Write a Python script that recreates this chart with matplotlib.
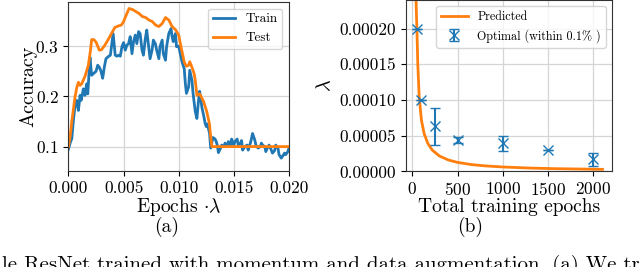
import numpy as np
import matplotlib
matplotlib.use("Agg")
import matplotlib.pyplot as plt
from matplotlib.ticker import FormatStrFormatter

plt.rcParams['font.family'] = 'serif'
plt.rcParams['font.serif'] = ['cmr10']
plt.rcParams['mathtext.fontset'] = 'cm'
plt.rcParams['axes.formatter.use_mathtext'] = True

# (a) accuracy vs epochs * lambda
train_x = [0.0, 0.00015, 0.0003, 0.00045, 0.0006, 0.00075, 0.0009, 0.00105, 0.00115, 0.00135,
           0.0015, 0.00165, 0.00175, 0.00195, 0.0021, 0.0023, 0.0025, 0.00265, 0.0028, 0.00295,
           0.0031, 0.00325, 0.0034, 0.0036, 0.0038, 0.00405, 0.00424, 0.0044, 0.00455, 0.0047,
           0.00485, 0.005, 0.00515, 0.0053, 0.00545, 0.0056, 0.00576, 0.0059, 0.00606, 0.0062,
           0.00636, 0.0065, 0.00667, 0.0068, 0.00697, 0.0071, 0.00727, 0.0074, 0.00758, 0.0077,
           0.00788, 0.008, 0.0082, 0.0083, 0.0085, 0.0086, 0.0088, 0.0089, 0.0091, 0.0093,
           0.0094, 0.0095, 0.0097, 0.0098, 0.01, 0.01014, 0.0103, 0.0105, 0.0106, 0.0107,
           0.0109, 0.011, 0.0112, 0.0113, 0.0115, 0.01165, 0.0118, 0.0119, 0.012, 0.0121,
           0.01225, 0.0124, 0.0125, 0.0126, 0.0128, 0.0129, 0.0131, 0.0133, 0.0134, 0.0135,
           0.0136, 0.0138, 0.0139, 0.0141, 0.0142, 0.0144, 0.0145, 0.0147, 0.0148, 0.015,
           0.0151, 0.0153, 0.0154, 0.0156, 0.0157, 0.0158, 0.016, 0.0162, 0.0163, 0.0165,
           0.0166, 0.0167, 0.0169, 0.017, 0.0172, 0.0174, 0.0175, 0.0176, 0.0178, 0.0179,
           0.0181, 0.0182, 0.0184, 0.0185, 0.0187, 0.0188, 0.019, 0.0191, 0.0193, 0.0194,
           0.0196, 0.0197, 0.0199, 0.02]
train_acc = [0.095, 0.107, 0.116, 0.153, 0.182, 0.192, 0.172, 0.202, 0.192, 0.215,
             0.202, 0.225, 0.205, 0.278, 0.242, 0.246, 0.25, 0.262, 0.258, 0.25,
             0.236, 0.258, 0.275, 0.279, 0.282, 0.325, 0.282, 0.28, 0.282, 0.28,
             0.299, 0.307, 0.292, 0.302, 0.305, 0.319, 0.285, 0.309, 0.322, 0.305,
             0.329, 0.325, 0.292, 0.282, 0.315, 0.332, 0.299, 0.275, 0.292, 0.312,
             0.305, 0.292, 0.275, 0.299, 0.312, 0.285, 0.272, 0.299, 0.325, 0.335,
             0.319, 0.309, 0.325, 0.299, 0.3, 0.285, 0.269, 0.255, 0.226, 0.206,
             0.219, 0.252, 0.232, 0.206, 0.17, 0.156, 0.193, 0.21, 0.195, 0.178,
             0.163, 0.146, 0.14, 0.145, 0.126, 0.097, 0.118, 0.115, 0.11, 0.103,
             0.088, 0.097, 0.103, 0.1, 0.107, 0.1, 0.11, 0.103, 0.115, 0.103,
             0.11, 0.115, 0.103, 0.107, 0.112, 0.093, 0.1, 0.103, 0.093, 0.107,
             0.116, 0.126, 0.113, 0.103, 0.097, 0.1, 0.107, 0.103, 0.1, 0.09,
             0.1, 0.103, 0.093, 0.087, 0.092, 0.103, 0.097, 0.084, 0.077, 0.08,
             0.087, 0.084, 0.09, 0.097]

test_x = [0.0, 0.00015, 0.0003, 0.00045, 0.0006, 0.00076, 0.0009, 0.00105, 0.0012, 0.0015,
          0.0018, 0.002, 0.0021, 0.0023, 0.0025, 0.0028, 0.003, 0.0033, 0.0036, 0.0039,
          0.0042, 0.0045, 0.0048, 0.005, 0.0053, 0.0055, 0.0058, 0.0061, 0.0064, 0.0067,
          0.007, 0.0073, 0.0076, 0.0079, 0.0082, 0.0085, 0.0088, 0.0091, 0.0094, 0.0097,
          0.01, 0.0102, 0.0104, 0.0105, 0.0107, 0.0109, 0.011, 0.0112, 0.0114, 0.0115,
          0.01165, 0.0119, 0.01225, 0.01254, 0.01278, 0.0129, 0.013, 0.014, 0.016, 0.018, 0.02]
test_acc = [0.1, 0.12, 0.15, 0.175, 0.2, 0.218, 0.228, 0.222, 0.225, 0.24,
            0.262, 0.292, 0.313, 0.313, 0.308, 0.292, 0.293, 0.302, 0.313, 0.325,
            0.337, 0.34, 0.342, 0.349, 0.365, 0.375, 0.373, 0.369, 0.365, 0.359,
            0.357, 0.352, 0.349, 0.342, 0.339, 0.345, 0.357, 0.352, 0.339, 0.333,
            0.322, 0.299, 0.279, 0.268, 0.26, 0.262, 0.269, 0.258, 0.245, 0.232,
            0.202, 0.205, 0.19, 0.17, 0.146, 0.12, 0.1, 0.1, 0.1, 0.1, 0.1]

# (b) optimal lambda vs total training epochs
pred_epochs = [37, 40, 45, 50, 60, 75, 100, 130, 170, 220, 300, 400, 500, 650, 800,
               1000, 1300, 1600, 2000, 2100]
pred_lam = [2.7e-4, 2.45e-4, 2.2e-4, 2.0e-4, 1.5e-4, 1.05e-4, 7.2e-5, 5.3e-5, 3.95e-5, 2.99e-5,
            2.16e-5, 1.6e-5, 1.27e-5, 9.7e-6, 7.9e-6, 6.3e-6, 4.8e-6, 3.9e-6, 3.2e-6, 3.0e-6]
opt_epochs = [50, 100, 250, 500, 1000, 1500, 2000]
opt_lam = [2.0e-4, 1.0e-4, 6.3e-5, 4.45e-5, 3.94e-5, 2.96e-5, 1.7e-5]
opt_err = [0.0, 0.0, 2.6e-5, 0.42e-5, 1.03e-5, 0.0, 8.8e-6]

fig = plt.figure(figsize=(6.4, 2.67), dpi=100)
ax1 = fig.add_axes([0.107, 0.3607, 0.3445, 0.632])
ax2 = fig.add_axes([0.634, 0.3577, 0.3219, 0.6423])

ax1.plot(train_x, train_acc, color='C0', lw=2, label='Train')
ax1.plot(test_x, test_acc, color='C1', lw=2, label='Test')
ax1.set_xlim(0, 0.02)
ax1.set_ylim(0.052, 0.388)
ax1.set_xticks([0, 0.005, 0.01, 0.015, 0.02])
ax1.set_yticks([0.1, 0.2, 0.3])
ax1.xaxis.set_major_formatter(FormatStrFormatter('%.3f'))
ax1.set_xlabel(r'Epochs $\cdot\lambda$', fontsize=14, labelpad=0)
ax1.set_ylabel('Accuracy', fontsize=14.5)
ax1.yaxis.set_label_coords(-0.143, 0.5)
ax1.grid(True, color='#d5d5d5', lw=0.9)
ax1.legend(loc='upper right', fontsize=9.5, handlelength=1.7, borderpad=0.35)

ax2.plot(pred_epochs, pred_lam, color='C1', lw=2, label='Predicted')
ax2.errorbar(opt_epochs, opt_lam, yerr=opt_err, fmt='x', color='C0', ms=7, capsize=3.5,
             label='Optimal (within 0.1% )')
ax2.set_xlim(-73, 2203)
ax2.set_ylim(0, 0.00024)
ax2.set_xticks([0, 500, 1000, 1500, 2000])
ax2.set_yticks([0, 0.00005, 0.0001, 0.00015, 0.0002])
ax2.yaxis.set_major_formatter(FormatStrFormatter('%.5f'))
ax2.set_xlabel('Total training epochs', fontsize=14, labelpad=0)
ax2.set_ylabel(r'$\lambda$', fontsize=14.5)
ax2.yaxis.set_label_coords(-0.345, 0.5)
ax2.grid(True, color='#d5d5d5', lw=0.9)
ax2.legend(loc='upper right', fontsize=8.7, handlelength=2.2)

for ax in (ax1, ax2):
    ax.tick_params(labelsize=12.5)
    for s in ax.spines.values():
        s.set_color('#333333')

fig.text(167 / 640, 0.150, '(a)', ha='center', va='center', fontsize=14)
fig.text(470 / 640, 0.150, '(b)', ha='center', va='center', fontsize=14)
fig.text(2 / 640, -0.012, 'le ResNet trained with momentum and data augmentation. (a) We train',
         ha='left', va='baseline', fontsize=15)

fig.savefig('out.png', dpi=100)
